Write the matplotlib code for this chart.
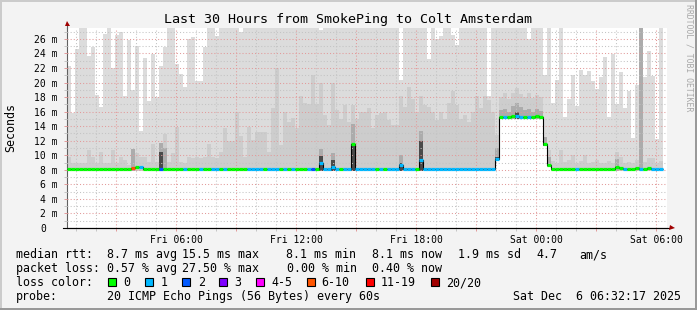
import numpy as np
import matplotlib
matplotlib.use("Agg")
import matplotlib.pyplot as plt
from matplotlib.patches import Rectangle
from matplotlib.transforms import ScaledTranslation

# ---------------- data ----------------
# time axis: hours since Fri 00:00, 12-minute bins
t_start = 0.538          # Fri 00:32:17
t_end = 30.538           # Sat 06:32:17
bin_first = 0.54
bin_step = 0.2

# top of the smoke (highest ping) per bin, ms
smoke_max = [
    22.3, 15.8, 24.6, 28, 28, 23.6, 24.9, 18.3, 16.7, 26.7,
    28, 22.0, 26.6, 27.0, 18.2, 25.8, 19.0, 25.0, 13.4, 23.4,
    17.5, 23.9, 18.0, 22.3, 24.9, 28, 28, 22.6, 21.2, 19.4,
    26.0, 26.3, 20.2, 20.2, 24.9, 28, 28, 26.4, 28, 28,
    28, 28, 28, 27.0, 28, 28, 28, 28, 28, 28,
    28, 28, 28, 28, 28, 28, 28, 28, 28, 28,
    28, 28, 28, 27.2, 28, 28, 28, 28, 28, 28,
    28, 28, 28, 28, 28, 28, 28, 28, 28, 28,
    28, 28, 28, 20.4, 28, 28, 28, 28, 28, 28,
    23.3, 28, 26.0, 26.4, 28, 28, 26.6, 25.2, 28, 28,
    28, 28, 28, 28, 28, 18.1, 28, 28, 28, 28,
    28, 28, 28, 28, 28, 26.0, 28, 28, 28, 21.0,
    28, 17.2, 20.4, 28, 15.2, 17.8, 21.1, 16.8, 21.7, 21.0,
    21.6, 20.2, 19.1, 20.7, 23.5, 15.3, 23.9, 17.0, 21.5, 16.5,
    18.8, 12.4, 19.7, 28, 20.8, 24.3, 20.9, 12.2, 28,
]

# top of the denser (medium grey) part of the smoke, ms
smoke_mid = [
    9.8, 8.9, 8.9, 8.9, 8.9, 10.7, 9.8, 8.9, 10.5, 8.9,
    8.9, 10.7, 9.0, 9.7, 9.4, 8.7, 10.9, 10.3, 9.7, 9.7,
    9.1, 11.5, 9.1, 11.5, 12.9, 9.1, 10.3, 13.9, 9.1, 9.0,
    9.8, 9.6, 9.7, 9.6, 9.7, 11.5, 9.7, 9.6, 10.5, 13.8,
    11.9, 11.9, 15.9, 12.6, 9.8, 13.9, 12.1, 13.2, 13.2, 13.2,
    10.4, 16.5, 22.0, 11.4, 15.9, 14.6, 15.1, 13.7, 18.2, 17.2,
    17.1, 21.0, 17.1, 19.9, 15.5, 14.2, 19.9, 16.2, 15.0, 16.9,
    14.6, 16.9, 15.0, 16.0, 16.0, 16.5, 13.7, 15.5, 15.8, 16.0,
    14.9, 14.2, 14.2, 18.1, 16.7, 19.4, 17.8, 15.8, 18.1, 16.9,
    16.7, 16.0, 14.9, 16.0, 15.0, 17.2, 18.8, 16.9, 15.0, 15.5,
    14.6, 16.0, 18.1, 16.5, 18.1, 17.6, 16.0, 12.8, 18.0, 18.5,
    17.8, 18.6, 19.2, 18.4, 18.0, 18.5, 17.9, 18.3, 18.0, 11.7,
    10.7, 9.2, 9.0, 10.7, 9.1, 9.3, 10.0, 8.9, 9.2, 10.0,
    9.0, 9.1, 9.4, 8.9, 9.0, 9.2, 9.0, 10.5, 9.8, 9.0,
    9.1, 9.0, 9.3, 9.8, 9.1, 9.6, 9.6, 9.0, 9.2,
]

# lowest ping per bin, ms
smoke_min = [
    7.9, 7.9, 7.9, 7.9, 7.9, 7.9, 7.9, 7.9, 7.9, 7.9,
    7.9, 7.9, 7.9, 7.9, 7.9, 7.9, 7.9, 7.9, 7.9, 7.9,
    7.9, 7.9, 7.9, 7.9, 7.9, 7.9, 7.9, 7.9, 7.9, 7.9,
    7.9, 7.9, 7.9, 7.9, 7.9, 7.9, 7.9, 7.9, 7.9, 7.9,
    7.9, 7.9, 7.9, 7.9, 7.9, 7.9, 7.9, 7.9, 7.9, 7.9,
    7.9, 7.9, 7.9, 7.9, 7.9, 7.9, 7.9, 7.9, 7.9, 7.9,
    7.9, 7.9, 7.9, 7.9, 7.9, 7.9, 7.9, 7.9, 7.9, 7.9,
    7.9, 7.9, 7.9, 7.9, 7.9, 7.9, 7.9, 7.9, 7.9, 7.9,
    7.9, 7.9, 7.9, 7.9, 7.9, 7.9, 7.9, 7.9, 7.9, 7.9,
    7.9, 7.9, 7.9, 7.9, 7.9, 7.9, 7.9, 7.9, 7.9, 7.9,
    7.9, 7.9, 7.9, 7.9, 7.9, 7.9, 7.9, 9.2, 15.0, 15.0,
    15.0, 15.0, 15.0, 15.0, 15.0, 15.0, 15.0, 15.0, 15.0, 11.3,
    8.4, 7.9, 7.9, 7.9, 7.9, 7.9, 7.9, 7.9, 7.9, 7.9,
    7.9, 7.9, 7.9, 7.9, 7.9, 7.9, 7.9, 7.9, 7.9, 7.9,
    7.9, 7.9, 7.9, 7.9, 7.9, 7.9, 7.9, 7.9, 7.9,
]

# median rtt per bin, ms
median = [
    8.05, 8.05, 8.05, 8.05, 8.05, 8.1, 8.05, 8.05, 8.05, 8.1,
    8.05, 8.05, 8.1, 8.05, 8.05, 8.05, 8.2, 8.35, 8.35, 8.15,
    8.15, 8.15, 8.15, 8.1, 8.15, 8.1, 8.1, 8.1, 8.1, 8.1,
    8.1, 8.1, 8.1, 8.1, 8.1, 8.1, 8.1, 8.1, 8.1, 8.1,
    8.1, 8.1, 8.1, 8.1, 8.1, 8.1, 8.1, 8.1, 8.1, 8.1,
    8.1, 8.1, 8.1, 8.1, 8.1, 8.1, 8.1, 8.1, 8.1, 8.1,
    8.1, 8.05, 8.1, 8.9, 8.1, 8.1, 8.4, 8.1, 8.1, 8.1,
    8.1, 11.5, 8.1, 8.1, 8.1, 8.1, 8.1, 8.1, 8.1, 8.1,
    8.1, 8.1, 8.1, 8.6, 8.1, 8.1, 8.1, 8.1, 9.3, 8.1,
    8.1, 8.1, 8.1, 8.1, 8.1, 8.1, 8.1, 8.1, 8.1, 8.1,
    8.1, 8.1, 8.1, 8.1, 8.1, 8.1, 8.1, 9.5, 15.3, 15.3,
    15.2, 15.4, 15.4, 15.2, 15.3, 15.3, 15.2, 15.4, 15.3, 11.6,
    8.7, 8.05, 8.05, 8.05, 8.05, 8.05, 8.05, 8.1, 8.05, 8.05,
    8.05, 8.05, 8.05, 8.05, 8.05, 8.05, 8.05, 8.4, 8.3, 8.1,
    8.05, 8.05, 8.3, 8.1, 8.1, 8.3, 8.1, 8.1, 8.1,
]

# loss class per bin (index into loss_labels)
loss = [
    0, 0, 0, 0, 0, 0, 0, 0, 0, 0,
    0, 0, 0, 0, 0, 0, 5, 0, 1, 0,
    0, 0, 0, 2, 0, 0, 0, 0, 0, 1,
    0, 0, 0, 1, 0, 0, 1, 1, 0, 1,
    0, 0, 0, 0, 0, 1, 1, 1, 1, 0,
    1, 1, 1, 0, 1, 0, 1, 0, 0, 0,
    1, 2, 0, 1, 1, 1, 1, 1, 0, 1,
    1, 0, 1, 1, 1, 1, 1, 0, 1, 0,
    1, 1, 1, 1, 1, 1, 1, 0, 1, 1,
    1, 1, 1, 1, 1, 1, 1, 1, 1, 1,
    1, 1, 1, 1, 1, 1, 1, 1, 0, 1,
    0, 0, 1, 1, 0, 1, 0, 0, 0, 0,
    0, 0, 0, 0, 0, 0, 0, 1, 0, 0,
    0, 0, 0, 0, 0, 0, 0, 0, 0, 1,
    0, 0, 0, 1, 0, 0, 1, 1, 1,
]

# bins with darker (denser) smoke near the median
dark_bins = [16, 23, 24, 63, 66, 71, 83, 88, 107, 108, 109, 110, 111, 112,
             113, 114, 115, 116, 117, 118, 119, 120, 137, 143]
dark_top = [10.9, 11.7, 11.0, 10.9, 10.3, 14.3, 10.0, 13.4, 11.0, 16.2, 16.4,
            16.0, 16.8, 17.2, 16.6, 16.2, 16.4, 16.0, 16.3, 16.1, 12.5, 9.8,
            9.5, 28]
darkest_bins = [23, 63, 66, 71, 83, 88, 107, 112, 119]
darkest_top = [10.5, 9.9, 9.3, 11.5, 9.0, 12.0, 9.8, 16.0, 11.6]

loss_labels = ["0", "1", "2", "3", "4-5", "6-10", "11-19", "20/20"]
loss_colors = ["#00ff00", "#00b8ff", "#0059ff", "#7e00ff", "#ff00ff",
               "#ff5500", "#ff0000", "#a10000"]

y_ticks = [0, 2, 4, 6, 8, 10, 12, 14, 16, 18, 20, 22, 24, 26]
x_label_hours = [6, 12, 18, 24, 30]
x_labels = ["Fri 06:00", "Fri 12:00", "Fri 18:00", "Sat 00:00", "Sat 06:00"]

title = "Last 30 Hours from SmokePing to Colt Amsterdam"
stats_rtt = ["median rtt:", "8.7 ms avg", "15.5 ms max", "8.1 ms min",
             "8.1 ms now", "1.9 ms sd", "4.7", "am/s"]
stats_loss = ["packet loss:", "0.57 % avg", "27.50 % max", "0.00 % min",
              "0.40 % now"]
probe_text = ["probe:", "20 ICMP Echo Pings (56 Bytes) every 60s",
              "Sat Dec  6 06:32:17 2025"]

# ---------------- layout ----------------
W, H, DPI = 697, 310, 100
MONO = "DejaVu Sans Mono"
fig = plt.figure(figsize=(W / DPI, H / DPI), dpi=DPI, facecolor="#f3f3f3")


def fx(px):
    return px / W


def fy(py):
    return 1 - py / H


# frame shading
fig.add_artist(Rectangle((0, fy(2)), 1, 2 / H, transform=fig.transFigure,
                         facecolor="#cbcbcb", lw=0))
fig.add_artist(Rectangle((0, 0), 2 / W, 1, transform=fig.transFigure,
                         facecolor="#cbcbcb", lw=0))
fig.add_artist(Rectangle((0, 0), 1, 2 / H, transform=fig.transFigure,
                         facecolor="#999999", lw=0))
fig.add_artist(Rectangle((fx(W - 2), 0), 2 / W, 1, transform=fig.transFigure,
                         facecolor="#999999", lw=0))

ax = fig.add_axes([fx(67), fy(228), fx(667) - fx(67), fy(28) - fy(228)])
ax.set_facecolor("white")
ax.set_xlim(t_start, t_end)
ax.set_ylim(0, 27.5)

n = len(median)
lefts = bin_first + bin_step * np.arange(n)
edges = bin_first + bin_step * np.arange(n + 1)
smax = np.array(smoke_max)
smid = np.array(smoke_mid)
smin = np.array(smoke_min)
med = np.array(median)

ax.bar(lefts, smax - smin, bottom=smin, width=bin_step, align="edge",
       color="#dcdcdc", lw=0, antialiased=False, zorder=1)
ax.bar(lefts, smid - smin, bottom=smin, width=bin_step, align="edge",
       color="#cdcdcd", lw=0, antialiased=False, zorder=1.1)
db = np.array(dark_bins)
ax.bar(lefts[db], np.array(dark_top) - smin[db], bottom=smin[db],
       width=bin_step, align="edge", color="#acacac", lw=0,
       antialiased=False, zorder=1.2)
kb = np.array(darkest_bins)
ax.bar(lefts[kb], np.array(darkest_top) - smin[kb], bottom=smin[kb],
       width=bin_step, align="edge", color="#4a4a4a", lw=0,
       antialiased=False, zorder=1.3)

# grid
dots = (0, (1, 2))
ax.set_xticks(np.arange(3, 31, 3))
ax.set_xticks(np.arange(1, 31, 1), minor=True)
ax.set_xticklabels([x_labels[x_label_hours.index(h)] if h in x_label_hours
                    else "" for h in range(3, 31, 3)])
ax.set_yticks(y_ticks)
ax.set_yticks(np.arange(1, 28, 1), minor=True)
ax.set_yticklabels([("%d m" % v) if v else "0" for v in y_ticks])
ax.grid(which="minor", color="#c4c4c4", lw=0.75, ls=dots, zorder=2)
ax.grid(which="major", color="#e29a9a", lw=0.75, ls=dots, zorder=2.1)
ax.set_axisbelow(False)
ax.tick_params(which="both", length=2, width=0.7, color="#e29a9a")
ax.tick_params(which="minor", color="#c4c4c4")
ax.tick_params(axis="x", which="major", pad=3.2, labelsize=7)
ax.tick_params(axis="y", which="major", pad=4.5, labelsize=7)
for lab in ax.get_xticklabels() + ax.get_yticklabels():
    lab.set_family(MONO)
zero_lab = ax.get_yticklabels()[0]
zero_lab.set_transform(zero_lab.get_transform()
                       + ScaledTranslation(-12 / DPI, 0, fig.dpi_scale_trans))

# median line: black steps + loss-coloured segments
ax.stairs(med, edges, baseline=None, color="black", lw=0.8, zorder=4)
ax.hlines(med, lefts, lefts + bin_step, colors=[loss_colors[c] for c in loss],
          lw=2.3, zorder=5, capstyle="butt")

# axes lines and arrows
for s in ["top", "right"]:
    ax.spines[s].set_visible(False)
ax.spines["left"].set_color("#606060")
ax.spines["left"].set_linewidth(0.8)
ax.spines["bottom"].set_color("black")
ax.spines["bottom"].set_linewidth(0.8)
ax.plot([0, 0], [1, 1.02], transform=ax.transAxes, color="#606060", lw=0.8,
        clip_on=False, zorder=6)
ax.plot([-4 / 600, 1.003], [0, 0], transform=ax.transAxes, color="black",
        lw=0.8, clip_on=False, zorder=6)
ax.plot([0], [1.025], marker="^", ms=3.6, color="#a00000",
        transform=ax.transAxes, clip_on=False, zorder=7, mew=0)
ax.plot([1.008], [0], marker=">", ms=3.6, color="#a00000",
        transform=ax.transAxes, clip_on=False, zorder=7, mew=0)

# texts
fig.text(fx(348), fy(23.5), title, ha="center", va="baseline",
         family=MONO, size=9.6, color="black")
fig.text(fx(11), fy(127), "Seconds", rotation=90, ha="center",
         va="center", family=MONO, size=8.4)
fig.text(fx(688.5), fy(4), "RRDTOOL / TOBI OETIKER", rotation=270,
         ha="center", va="top", family=MONO, size=5.9, color="#a8a8a8")

LEG = 8.4
rtt_x = [16, 107.3, 181.7, 286, 372.3, 458.3, 536, 579.3]
for s, x in zip(stats_rtt, rtt_x):
    fig.text(fx(x), fy(258.3), s, family=MONO, size=LEG, va="baseline")
loss_x = [16, 107.3, 181.7, 286.7, 372.3]
for s, x in zip(stats_loss, loss_x):
    fig.text(fx(x), fy(272.3), s, family=MONO, size=LEG, va="baseline")
fig.text(fx(16), fy(286.3), "loss color:", family=MONO, size=LEG,
         va="baseline")
box_x = [108.3, 145.3, 182.3, 219.3, 256.3, 306.7, 365.7, 430.7]
lab_x = [123.3, 161, 197.7, 234.3, 271, 321.7, 380.7, 446]
for c, bx, lx, lbl in zip(loss_colors, box_x, lab_x, loss_labels):
    fig.add_artist(Rectangle((fx(bx), fy(286)), 8 / W, 8 / H,
                             transform=fig.transFigure, facecolor=c,
                             edgecolor="black", lw=0.8))
    fig.text(fx(lx), fy(286.3), lbl, family=MONO, size=LEG, va="baseline")
probe_x = [16, 107.3, 513.3]
for s, x in zip(probe_text, probe_x):
    fig.text(fx(x), fy(300.3), s, family=MONO, size=LEG, va="baseline")

fig.savefig("out.png", dpi=DPI, facecolor=fig.get_facecolor())
